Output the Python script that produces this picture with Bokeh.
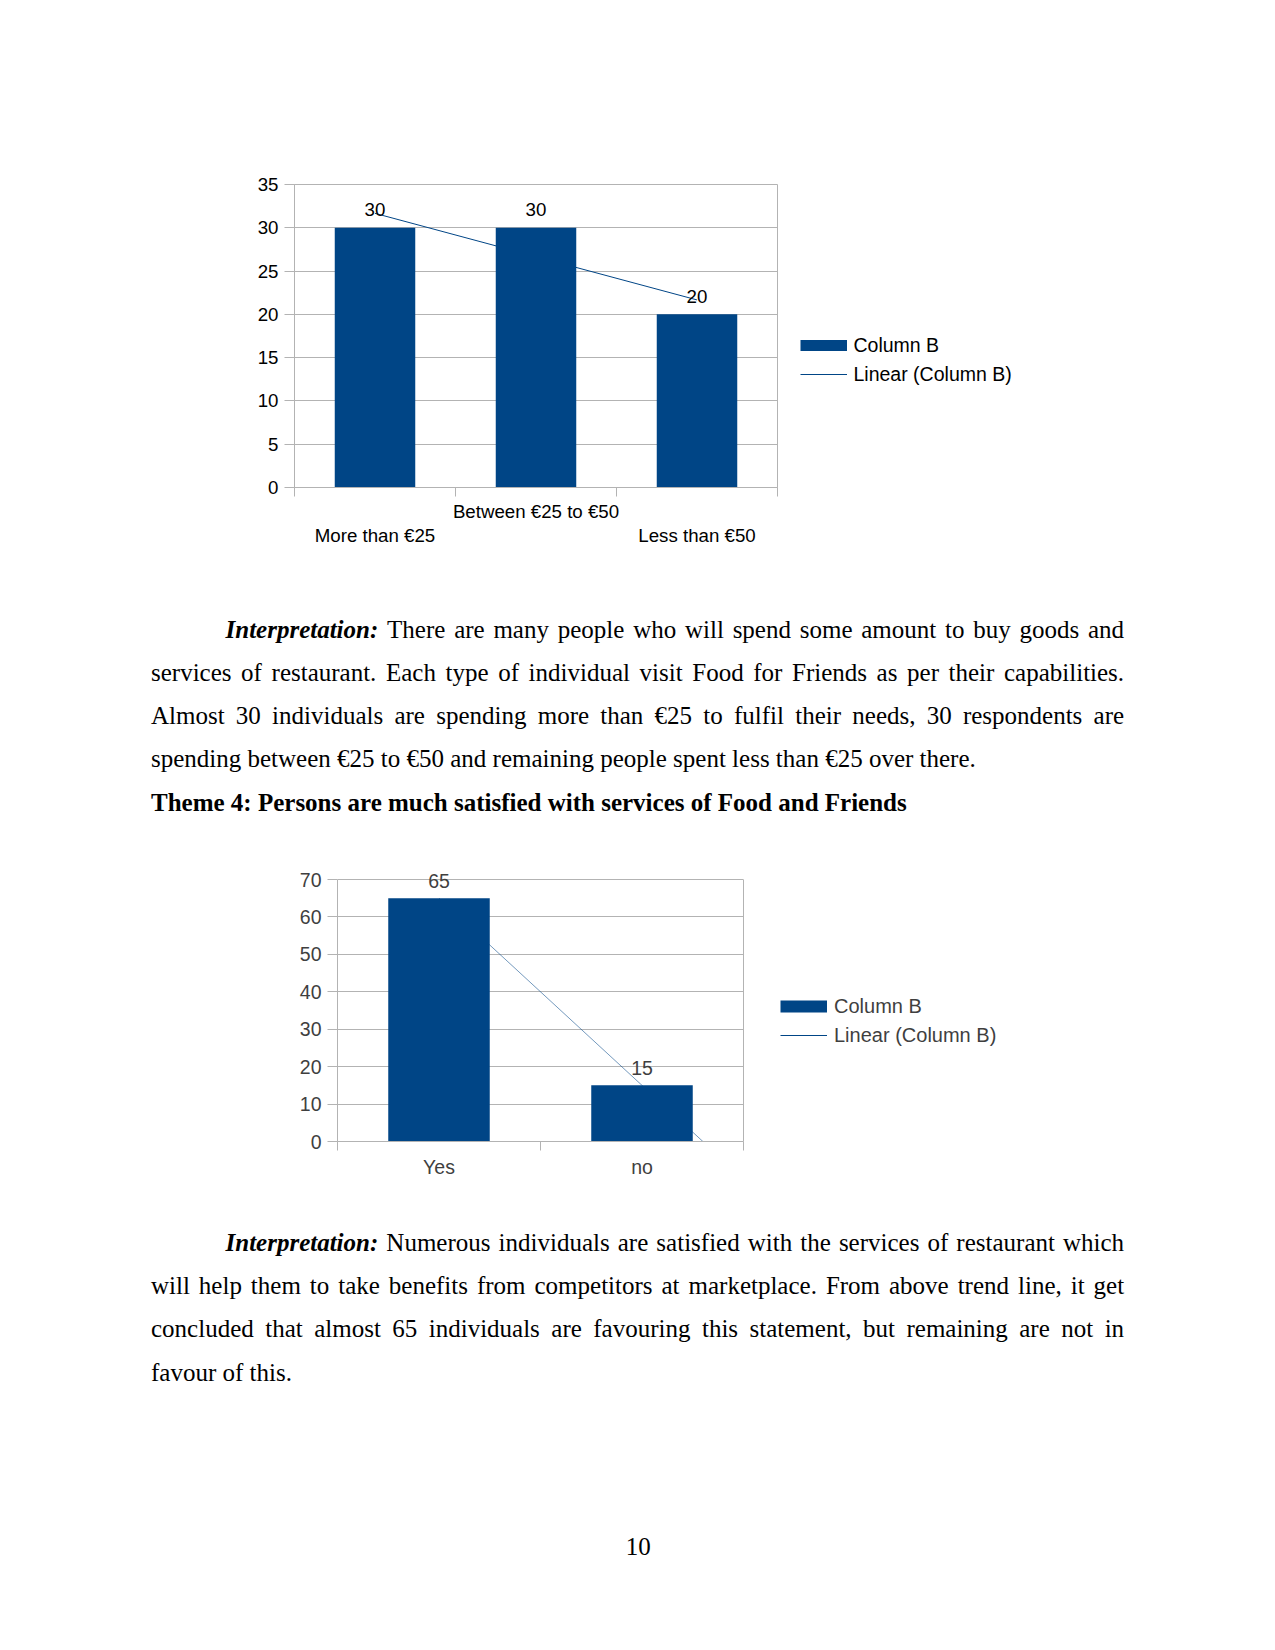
import numpy as np
from bokeh.plotting import figure
from bokeh.models import (Range1d, FixedTicker, Legend, LegendItem, ColumnDataSource,
                          LinearAxis, Grid, Label)
from bokeh.layouts import column, row
from bokeh.embed import file_html
from bokeh.resources import INLINE
from bokeh.core.properties import value

# ---------------- data ----------------
spend_categories = ["More than €25", "Between €25 to €50", "Less than €50"]
spend_values = [30, 30, 20]
spend_y_ticks = [0, 5, 10, 15, 20, 25, 30, 35]

satisfied_categories = ["Yes", "no"]
satisfied_values = [65, 15]
satisfied_y_ticks = [0, 10, 20, 30, 40, 50, 60, 70]

series_name = "Column B"
trend_name = "Linear (Column B)"

para1_lines = [
    "There are many people who will spend some amount to buy goods and",
    "services of restaurant. Each type of individual visit Food for Friends as per their capabilities.",
    "Almost 30 individuals are spending more than €25 to fulfil their needs, 30 respondents are",
    "spending between €25 to €50 and remaining people spent less than €25 over there.",
]
heading = "Theme 4: Persons are much satisfied with services of Food and Friends"
para2_lines = [
    "Numerous individuals are satisfied with the services of restaurant which",
    "will help them to take benefits from competitors at marketplace. From above trend line, it get",
    "concluded that almost 65 individuals are favouring this statement, but remaining are not in",
    "favour of this.",
]
lead_word = "Interpretation:"
page_number = "10"

# ---------------- style ----------------
PAGE_W = 1255
GRID = "#b3b3b3"
BAR = "#004586"
SANS = "Liberation Sans"
SERIF = "Liberation Serif"

# Times metrics (per 1000 em) for justification
TR = dict(zip("abcdefghijklmnopqrstuvwxyz",
              [444, 500, 444, 500, 444, 333, 500, 500, 278, 278, 500, 278, 778, 500, 500, 500,
               500, 333, 389, 278, 500, 500, 722, 500, 500, 444]))
TR.update(zip("ABCDEFGHIJKLMNOPQRSTUVWXYZ",
              [722, 667, 667, 722, 611, 556, 722, 722, 333, 389, 722, 611, 889, 722, 722, 556,
               722, 667, 556, 611, 722, 722, 944, 722, 722, 611]))
TR.update({c: 500 for c in "0123456789€"})
TR.update({" ": 250, ".": 250, ",": 250, ":": 278, ";": 278, "(": 333, ")": 333, "-": 333})
TBI = {"I": 389, "n": 556, "t": 278, "e": 444, "r": 389, "p": 500, "a": 500, "i": 278,
       "o": 500, ":": 333}


def text_w(s, table, size):
    return sum(table.get(c, 500) for c in s) * size / 1000.0


def no_align(p):
    if "frame_align" in p.properties():
        p.frame_align = False
    return p


def make_chart(cats, vals, yticks, fig_w, page_top, height, frame_left, frame_top, frame_w,
               frame_h, font_px, text_color, trend_fwd, trend_w, trend_alpha, stagger,
               x_standoff, label_offset, headroom=0.0):
    n = len(cats)
    y0, y1 = yticks[0], yticks[-1]
    left = round(frame_left)
    top = round(frame_top - page_top - headroom)
    fw = round(frame_w)
    fh = round(frame_h + headroom)
    y_end = y1 + headroom * (y1 - y0) / frame_h
    p = figure(width=fig_w, height=height, output_backend="svg", toolbar_location=None,
               x_range=Range1d(0, n), y_range=Range1d(y0, y_end),
               x_axis_location=None, y_axis_location=None,
               min_border_left=left, min_border_right=fig_w - left - fw,
               min_border_top=top, min_border_bottom=height - top - fh)
    no_align(p)
    for g in p.grid:
        g.visible = False
    p.outline_line_color = GRID if headroom == 0 else None
    p.outline_line_width = 1
    p.background_fill_color = "white"
    p.border_fill_color = "white"

    centers = [i + 0.5 for i in range(n)]
    bounds = [float(i) for i in range(n + 1)]

    yax = LinearAxis(ticker=FixedTicker(ticks=yticks, minor_ticks=[]), bounds=(y0, y1),
                     axis_line_color=GRID, major_tick_line_color=GRID,
                     major_tick_out=10, major_tick_in=0, minor_tick_line_color=None,
                     major_label_standoff=6, major_label_text_font=SANS,
                     major_label_text_font_size=font_px, major_label_text_color=text_color)
    p.add_layout(yax, "left")
    if headroom != 0:
        # right border of the plot area, ending at the top tick
        rax = LinearAxis(ticker=FixedTicker(ticks=[], minor_ticks=[]), bounds=(y0, y1),
                         axis_line_color=GRID, major_tick_line_color=None,
                         minor_tick_line_color=None, major_label_text_font_size="0px")
        p.add_layout(rax, "right")

    overrides = {}
    for i, (c, lab) in enumerate(zip(centers, cats)):
        overrides[c] = ("\n" + lab) if (stagger and i % 2 == 0) else lab
    xax = LinearAxis(ticker=FixedTicker(ticks=centers, minor_ticks=bounds),
                     major_label_overrides=overrides,
                     axis_line_color=GRID, major_tick_line_color=None,
                     major_tick_out=0, major_tick_in=0,
                     minor_tick_line_color=GRID, minor_tick_out=9, minor_tick_in=0,
                     major_label_standoff=x_standoff, major_label_text_font=SANS,
                     major_label_text_font_size=font_px, major_label_text_color=text_color,
                     major_label_text_line_height=1.16)
    p.add_layout(xax, "below")
    p.add_layout(Grid(dimension=1, ticker=yax.ticker, grid_line_color=GRID, grid_line_width=1))

    # linear trend line fitted to the series
    idx = np.arange(1, n + 1, dtype=float)
    slope, icpt = np.polyfit(idx, np.array(vals, dtype=float), 1)
    tx = np.array([1.0, n + trend_fwd])
    ty = slope * tx + icpt
    p.line(x=tx - 0.5, y=ty, line_color=BAR, line_width=trend_w, line_alpha=trend_alpha)

    src = ColumnDataSource(dict(x=centers, top=vals))
    p.vbar(x="x", top="top", bottom=0, width=0.5, source=src, fill_color=BAR, line_color=None)

    for c, v in zip(centers, vals):
        p.add_layout(Label(x=c, y=v, text=str(v), text_align="center",
                           text_baseline="alphabetic", y_offset=label_offset,
                           text_font=SANS, text_font_size=font_px, text_color=text_color))
    return p


def make_legend_fig(page_left, page_top, height, sw_left, item1_center, item2_center,
                    font_px, text_color, swatch_h):
    w = PAGE_W - page_left
    p = figure(width=w, height=height, output_backend="svg", toolbar_location=None,
               x_range=Range1d(page_left, page_left + w),
               y_range=Range1d(page_top + height, page_top),
               min_border=0, x_axis_location=None, y_axis_location=None)
    no_align(p)
    p.outline_line_color = None
    p.background_fill_color = "white"
    p.border_fill_color = "white"
    for g in p.grid:
        g.visible = False
    # legend-only renderers (no visible data)
    swatch = p.line(x=[np.nan], y=[np.nan], line_color=BAR, line_width=swatch_h)
    trend = p.line(x=[np.nan], y=[np.nan], line_color=BAR, line_width=1)
    gh = 24
    spacing = round(item2_center - item1_center - gh)
    bottom = item1_center - gh / 2 + gh * 2 + spacing
    legend = Legend(items=[LegendItem(label=series_name, renderers=[swatch]),
                           LegendItem(label=trend_name, renderers=[trend])],
                    location=(sw_left - page_left, page_top + height - bottom),
                    orientation="vertical",
                    glyph_width=47, glyph_height=gh, label_height=gh,
                    spacing=spacing, label_standoff=7, padding=0, margin=0,
                    border_line_color=None, background_fill_alpha=0,
                    label_text_font=SANS, label_text_font_size=font_px,
                    label_text_color=text_color)
    p.add_layout(legend)
    return p


def make_text_fig(page_top, page_bottom):
    p = figure(width=PAGE_W, height=int(page_bottom - page_top), output_backend="svg",
               toolbar_location=None,
               x_range=Range1d(0, PAGE_W), y_range=Range1d(page_bottom, page_top),
               min_border=0, x_axis_location=None, y_axis_location=None)
    no_align(p)
    p.outline_line_color = None
    p.background_fill_color = "white"
    p.border_fill_color = "white"
    for g in p.grid:
        g.visible = False
    return p


def draw_words(p, xs, ys, words, align, style="normal"):
    if not words:
        return
    p.text(x=xs, y=ys, text=words, text_align=align, text_baseline="alphabetic",
           text_font=value(SERIF), text_font_size=value("25px"), text_font_style=style,
           text_color="black")


def draw_paragraph(p, lines, baselines, left, right, indent, size=25.0):
    for li, (line, base) in enumerate(zip(lines, baselines)):
        last = li == len(lines) - 1
        start = indent if li == 0 else left
        if li == 0:
            draw_words(p, [indent], [base], [lead_word], "left", "bold italic")
            lw = text_w(lead_word, TBI, size)
        if last:
            xs = start + (lw + text_w(" ", TR, size) if li == 0 else 0)
            draw_words(p, [xs], [base], [line], "left")
            continue
        words = line.split(" ")
        widths = [text_w(w, TR, size) for w in words]
        items_w = widths[:]
        if li == 0:
            items_w = [lw] + widths
        gap = (right - start - sum(items_w)) / (len(items_w) - 1)
        x = start
        pos = []
        for w in items_w:
            pos.append(x)
            x += w + gap
        if li == 0:
            pos = pos[1:]
        cx = [pp + w / 2 for pp, w in zip(pos[:-1], widths[:-1])]
        if li != 0:
            draw_words(p, [pos[0]], [base], [words[0]], "left")
            draw_words(p, cx[1:], [base] * (len(cx) - 1), words[1:-1], "center")
        else:
            draw_words(p, cx, [base] * len(cx), words[:-1], "center")
        draw_words(p, [right], [base], [words[-1]], "right")


LEFT, RIGHT, INDENT = 150.5, 1123.6, 225.0

CH1_W = 790
chart1 = make_chart(spend_categories, spend_values, spend_y_ticks, CH1_W, page_top=0, height=562,
                    frame_left=293.6, frame_top=184.3, frame_w=482.8, frame_h=303,
                    font_px="18.7px", text_color="#000000",
                    trend_fwd=0.0, trend_w=1.0, trend_alpha=1.0, stagger=True,
                    x_standoff=4, label_offset=18)
legend1 = make_legend_fig(CH1_W, 0, 562, 799.5, 345.1, 374.5, "19.5px", "#000000", 11)

text1 = make_text_fig(570, 830)
draw_paragraph(text1, para1_lines, [636.8, 680.0, 723.2, 766.4], LEFT, RIGHT, INDENT)
text1.text(x=[LEFT], y=[809.6], text=[heading], text_align="left", text_baseline="alphabetic",
           text_font=value(SERIF), text_font_size=value("25px"), text_font_style="bold",
           text_color="black")

CH2_W = 770
chart2 = make_chart(satisfied_categories, satisfied_values, satisfied_y_ticks, CH2_W,
                    page_top=822, height=370, frame_left=337.3, frame_top=879.2, frame_w=406,
                    frame_h=261.6, font_px="19.5px", text_color="#3f3f3f",
                    trend_fwd=0.5, trend_w=1.0, trend_alpha=0.55, stagger=False,
                    x_standoff=5, label_offset=17.5, headroom=12)
legend2 = make_legend_fig(CH2_W, 822, 370, 780.0, 1006.2, 1035.6, "20px", "#3f3f3f", 12)

text2 = make_text_fig(1200, 1638)
draw_paragraph(text2, para2_lines, [1250.0, 1293.2, 1336.4, 1379.6], LEFT, RIGHT, INDENT)
text2.text(x=[637.7], y=[1554.3], text=[page_number], text_align="center",
           text_baseline="alphabetic", text_font=value(SERIF), text_font_size=value("25px"),
           text_color="black")

layout = column(row(chart1, legend1, spacing=0), text1, row(chart2, legend2, spacing=0), text2,
                spacing=0)
open("out.html", "w").write(file_html(layout, INLINE))
